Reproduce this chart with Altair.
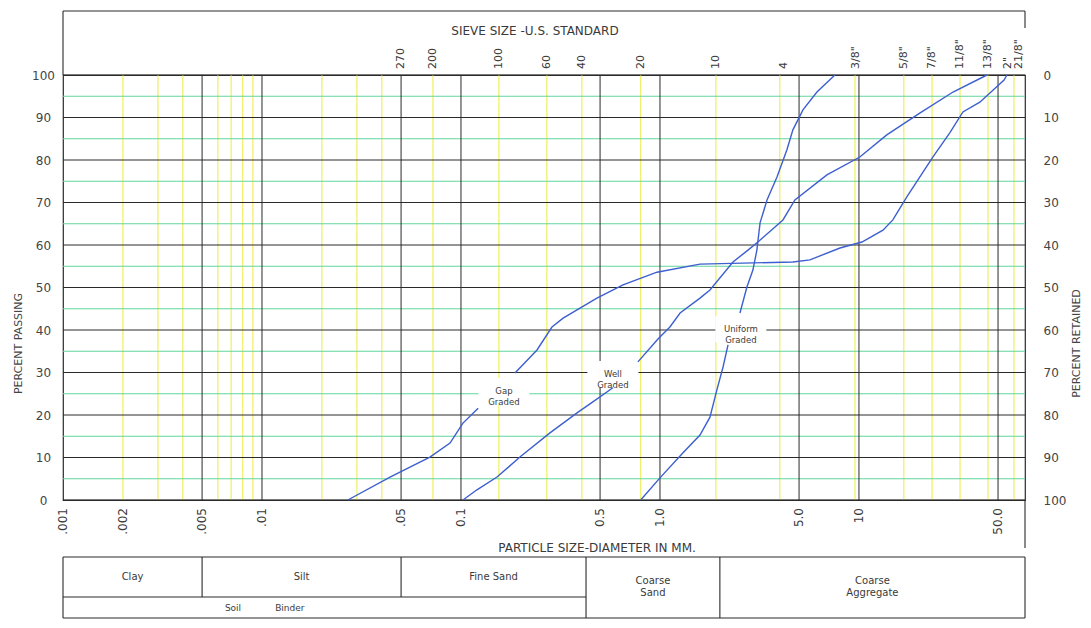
import math
import altair as alt
import pandas as pd

# ---------------- data ----------------
bottom_tick_sizes = [0.001, 0.002, 0.005, 0.01, 0.05, 0.1, 0.5, 1.0, 5.0, 10.0, 50.0]
bottom_tick_labels = [".001", ".002", ".005", ".01", ".05", "0.1", "0.5", "1.0", "5.0", "10", "50.0"]

major_sizes = [0.005, 0.01, 0.05, 0.1, 0.5, 1.0, 5.0, 10.0, 50.0]
minor_sizes = [0.002, 0.003, 0.004, 0.006, 0.007, 0.008, 0.009, 0.02, 0.03, 0.04]
sieve_line_sizes = [0.0723, 0.155, 0.27, 0.405, 0.80, 1.91, 4.0, 9.55, 16.8, 23.3, 32.2, 44.5, 60.1]

sieve_labels = ["270", "200", "100", "60", "40", "20", "10", "4",
                '3/8"', '5/8"', '7/8"', '11/8"', '13/8"', '2"', '21/8"']
sieve_label_sizes = [0.05, 0.0723, 0.155, 0.27, 0.405, 0.80, 1.91, 4.2,
                     9.7, 16.8, 23.3, 32.2, 44.5, 56.0, 64.0]

pct_major = [0, 10, 20, 30, 40, 50, 60, 70, 80, 90, 100]
pct_minor = [5, 15, 25, 35, 45, 55, 65, 75, 85, 95]

gap_size = [0.027, 0.044, 0.0698, 0.0881, 0.1023, 0.122,
            0.1868, 0.241, 0.2866, 0.326, 0.482, 0.652, 0.966, 1.589, 4.66, 5.67, 8.03,
            10.35, 13.2, 14.8, 17.4, 23.5, 28.6, 33.3, 40.5, 53.6, 55.4]
gap_pct = [0, 5.4, 10.1, 13.4, 18.1, 21.6,
           29.9, 35.3, 40.7, 42.8, 47.5, 50.6, 53.6, 55.5, 56.0, 56.5, 59.3,
           60.7, 63.5, 65.9, 71.3, 80.7, 86.4, 91.3, 93.6, 98.8, 100]
gap_part = [0] * 6 + [1] * 21

well_size = [0.1023, 0.1203, 0.1517, 0.1978, 0.280, 0.383, 0.460, 0.580,
             0.775, 0.977, 1.122, 1.262, 1.589, 1.783, 2.328, 2.768, 3.105, 4.150, 4.766,
             6.90, 10.1, 13.8, 20.3, 29.7, 44.0]
well_pct = [0, 2.4, 5.4, 10.1, 15.8, 20.5, 23.1, 26.4,
            32.5, 37.9, 40.7, 44.0, 47.5, 49.4, 56.0, 58.8, 60.7, 65.9, 70.6,
            76.5, 80.7, 85.9, 91.1, 96.0, 100]
well_part = [0] * 8 + [1] * 17

uni_size = [0.80, 1.0, 1.306, 1.589, 1.783, 1.932, 2.075, 2.198,
            2.523, 2.735, 2.931, 3.069, 3.184, 3.451, 3.873, 4.345, 4.656, 5.23, 6.15, 7.57]
uni_pct = [0, 5.2, 11.1, 15.3, 19.5, 25.9, 31.3, 36.5,
           44.0, 50.1, 54.1, 58.8, 65.2, 70.6, 76.0, 82.4, 87.1, 91.8, 96.0, 100]
uni_part = [0] * 8 + [1] * 12

curve_label_text = ["Gap\nGraded", "Well\nGraded", "Uniform\nGraded"]
curve_label_size = [0.1644, 0.580, 2.55]
curve_label_pct = [25.6, 29.6, 40.2]

table_top_text = ["Clay", "Silt", "Fine Sand"]
table_top_lo = [0.001, 0.005, 0.05]
table_top_hi = [0.005, 0.05, 0.425]
table_tall_text = ["Coarse\nSand", "Coarse\nAggregate"]
table_tall_lo = [0.425, 2.0]
table_tall_hi = [2.0, 68.3]
table_low_text = ["Soil", "Binder"]
table_low_size = [0.00715, 0.0138]
table_full_div = [0.001, 0.425, 2.0, 68.3]
table_half_div = [0.005, 0.05]

# ---------------- styling ----------------
W, H = 962, 425
XMIN, XMAX = 0.001, 68.3
FONT = "DejaVu Sans"
TXT = "#3a3a3a"
INK = "#2a2a2a"
BLUE = "#3d5fcf"

xs = alt.Scale(type="log", domain=[XMIN, XMAX], nice=False)
ys = alt.Scale(domain=[0, 100], nice=False, zero=False)


def X(f):
    return alt.X(f"{f}:Q", scale=xs, axis=None)


def Y(f, axis=None):
    return alt.Y(f"{f}:Q", scale=ys, axis=axis)


left_axis = alt.Axis(orient="left", values=pct_major, grid=False, ticks=False, domain=False,
                     labelPadding=20, labelAlign="center", labelFont=FONT, labelFontSize=12,
                     labelColor="#444", title="PERCENT PASSING", titleFont=FONT,
                     titleFontSize=11, titleFontWeight="normal", titleColor="#444",
                     titleAngle=270, titleX=-45, titleY=268, titleAlign="center",
                     titleBaseline="middle")
right_axis = alt.Axis(orient="right", values=pct_major, grid=False, ticks=False, domain=False,
                      labelExpr="format(100 - datum.value, 'd')",
                      labelPadding=18, labelAlign="left", labelFont=FONT, labelFontSize=12,
                      labelColor="#444", title="PERCENT RETAINED", titleFont=FONT,
                      titleFontSize=11, titleFontWeight="normal", titleColor="#444",
                      titleAngle=270, titleX=51, titleY=268, titleAlign="center",
                      titleBaseline="middle")

yellow = alt.Chart(pd.DataFrame({"s": minor_sizes + sieve_line_sizes})).mark_rule(
    color="#f1f06a", strokeWidth=1.3).encode(x=X("s"))
green = alt.Chart(pd.DataFrame({"p": pct_minor})).mark_rule(
    color="#62d69c", strokeWidth=1.2).encode(y=Y("p", right_axis))
black_h = alt.Chart(pd.DataFrame({"p": pct_major})).mark_rule(
    color=INK, strokeWidth=1).encode(y=Y("p", left_axis))
black_v = alt.Chart(pd.DataFrame({"s": major_sizes})).mark_rule(
    color=INK, strokeWidth=1).encode(x=X("s"))

rows = []
for name, sz, pc, pt in [("Gap", gap_size, gap_pct, gap_part),
                         ("Well", well_size, well_pct, well_part),
                         ("Uniform", uni_size, uni_pct, uni_part)]:
    for i, (s, p, q) in enumerate(zip(sz, pc, pt)):
        rows.append({"curve": name, "key": f"{name}-{q}", "i": i, "size": s, "pct": p})
curve_df = pd.DataFrame(rows)

lines = alt.Chart(curve_df).mark_line(color=BLUE, strokeWidth=1.4).encode(
    x=X("size"), y=Y("pct"), detail="key:N", order="i:Q")

lab_df = pd.DataFrame({"t": curve_label_text, "s": curve_label_size, "p": curve_label_pct})
boxes = alt.Chart(lab_df).mark_point(
    shape="M-1,-0.52L1,-0.52L1,0.52L-1,0.52Z", filled=True, color="white",
    opacity=1, size=2600, strokeWidth=0).encode(x=X("s"), y=Y("p"))
labels = alt.Chart(lab_df).mark_text(font=FONT, fontSize=8.5, color=TXT, lineBreak="\n",
                                     align="center", baseline="middle").encode(
    x=X("s"), y=Y("p"), text="t:N")

top_df = pd.DataFrame({"t": sieve_labels, "s": sieve_label_sizes})
top_labels = alt.Chart(top_df).mark_text(font=FONT, fontSize=11, color=TXT, angle=270,
                                         align="left", baseline="middle").encode(
    x=X("s"), y=alt.value(-6), text="t:N")

bot_df = pd.DataFrame({"t": bottom_tick_labels, "s": bottom_tick_sizes})
bot_labels = alt.Chart(bot_df).mark_text(font=FONT, fontSize=12, color=TXT, angle=270,
                                         align="right", baseline="middle").encode(
    x=X("s"), y=alt.value(433), text="t:N")

one = pd.DataFrame({"a": [0]})


def prule(x1, y1, x2, y2):
    return alt.Chart(one).mark_rule(color=INK, strokeWidth=1.1).encode(
        x=alt.value(x1), y=alt.value(y1), x2=alt.value(x2), y2=alt.value(y2))


frame = [prule(0, -64, W, -64), prule(0, -64, 0, 0), prule(W, -64, W, -47),
         prule(W, H, W, H + 48)]

titles = alt.Chart(pd.DataFrame({"t": ["SIEVE SIZE  -U.S.  STANDARD", "PARTICLE  SIZE-DIAMETER   IN   MM."],
                                 "xx": [472, 534], "yy": [-44, 473]})).mark_text(
    font=FONT, fontSize=12, color=TXT, align="center", baseline="middle").encode(
    x=alt.X("xx:Q", scale=None, axis=None), y=alt.Y("yy:Q", scale=None, axis=None), text="t:N")

# table
T0, T1, T2 = 482, 522, 543
tbl_lines = [prule(0, T0, W, T0), prule(0, T2, W, T2)]
tbl_full = alt.Chart(pd.DataFrame({"s": table_full_div})).mark_rule(color=INK, strokeWidth=1.1).encode(
    x=X("s"), y=alt.value(T0), y2=alt.value(T2))
tbl_half = alt.Chart(pd.DataFrame({"s": table_half_div})).mark_rule(color=INK, strokeWidth=1.1).encode(
    x=X("s"), y=alt.value(T0), y2=alt.value(T1))
tbl_row = alt.Chart(pd.DataFrame({"a": [XMIN], "b": [0.425]})).mark_rule(color=INK, strokeWidth=1.1).encode(
    x=X("a"), x2="b:Q", y=alt.value(T1))

top_tbl_df = pd.DataFrame({"t": table_top_text,
                           "s": [math.sqrt(a * b) for a, b in zip(table_top_lo, table_top_hi)]})
tall_tbl_df = pd.DataFrame({"t": table_tall_text,
                            "s": [math.sqrt(a * b) for a, b in zip(table_tall_lo, table_tall_hi)]})
low_tbl_df = pd.DataFrame({"t": table_low_text, "s": table_low_size})
tbl_txt1 = alt.Chart(top_tbl_df).mark_text(font=FONT, fontSize=10, color=TXT, baseline="middle").encode(
    x=X("s"), y=alt.value(502), text="t:N")
tbl_txt2 = alt.Chart(tall_tbl_df).mark_text(font=FONT, fontSize=10, color=TXT, baseline="middle",
                                            lineBreak="\n").encode(
    x=X("s"), y=alt.value(506), text="t:N")
tbl_txt3 = alt.Chart(low_tbl_df).mark_text(font=FONT, fontSize=9, color=TXT, baseline="middle").encode(
    x=X("s"), y=alt.value(533), text="t:N")

chart = alt.layer(
    yellow, green, black_h, black_v, boxes, lines, labels, top_labels, bot_labels,
    *frame, titles, *tbl_lines, tbl_full, tbl_half, tbl_row, tbl_txt1, tbl_txt2, tbl_txt3
).resolve_axis(y="independent").properties(
    width=W, height=H, background="white",
    autosize=alt.AutoSizeParams(type="none"),
    padding={"left": 55, "top": 67, "right": 58, "bottom": 120},
).configure_view(stroke=INK, strokeWidth=1.2)

chart.save("out.html", embed_options={"renderer": "svg", "actions": False})
